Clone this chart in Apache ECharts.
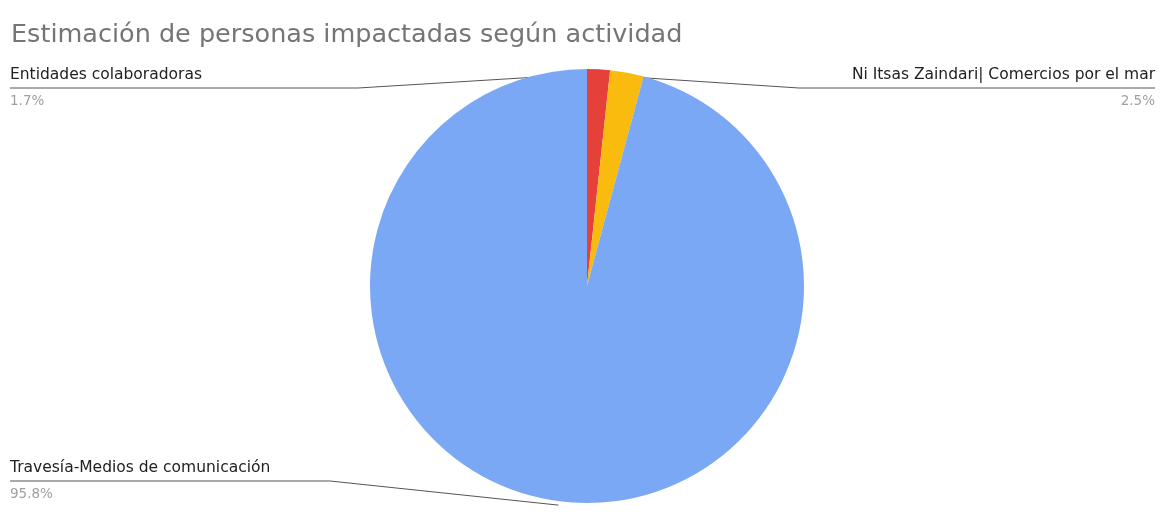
<!DOCTYPE html>
<html>
<head>
<meta charset="utf-8">
<script src="https://cdn.jsdelivr.net/npm/echarts@6/dist/echarts.min.js"></script>
<style>
html,body{margin:0;padding:0;background:#fff;}
#chart{width:1165px;height:522px;}
</style>
</head>
<body>
<div id="chart"></div>
<script>
const titleText = 'Estimación de personas impactadas según actividad';
const categories = ['Entidades colaboradoras', 'Ni Itsas Zaindari| Comercios por el mar', 'Travesía-Medios de comunicación'];
const values = [1.7, 2.5, 95.8];
const colors = ['#e5403a', '#f9bb0e', '#7aa8f4'];

// layout (not data)
const W = 1165;
const CX = 587, CY = 286, R = 217;
const TOP_LINE_Y = 88, BOTTOM_LINE_Y = 481;
const EDGE = 10;
const labelSides = ['left', 'right', 'left'];
const FONT = 'DejaVu Sans, Liberation Sans, Arial, sans-serif';

const chart = echarts.init(document.getElementById('chart'), null, {renderer: 'canvas'});
chart.setOption({
  backgroundColor: '#ffffff',
  animation: false,
  title: {
    text: titleText,
    left: 6,
    top: 17,
    textStyle: {fontFamily: FONT, fontSize: 25.5, fontWeight: 'normal', color: '#757575'}
  },
  series: [{
    type: 'pie',
    center: [CX, CY],
    radius: [0, R],
    startAngle: 90,
    clockwise: true,
    avoidLabelOverlap: false,
    percentPrecision: 1,
    data: categories.map((c, i) => ({name: c, value: values[i], itemStyle: {color: colors[i]}})),
    itemStyle: {borderWidth: 0},
    label: {
      show: true,
      position: 'outer',
      formatter: '{n|{b}}\n{p|{d}%}',
      rich: {
        n: {fontFamily: FONT, fontSize: 15.5, color: '#222222', lineHeight: 26},
        p: {fontFamily: FONT, fontSize: 13.5, color: '#a0a0a0', lineHeight: 26}
      }
    },
    labelLine: {show: true, length: 10, length2: 10, lineStyle: {color: '#555555', width: 1}},
    labelLayout: function (p) {
      const pt = p.labelLinePoints[0];
      const isLeft = labelSides[p.dataIndex] === 'left';
      const lineY = pt[1] < CY ? TOP_LINE_Y : BOTTOM_LINE_Y;
      const bendX = isLeft ? (lineY === TOP_LINE_Y ? CX - R - 12 : CX - R - 40) : CX + R - 5;
      const endX = isLeft ? EDGE : W - EDGE;
      return {
        x: endX,
        y: lineY,
        align: isLeft ? 'left' : 'right',
        verticalAlign: 'middle',
        labelLinePoints: [[pt[0], pt[1] + 4], [bendX, lineY], [endX, lineY]]
      };
    }
  }]
});
</script>
</body>
</html>
